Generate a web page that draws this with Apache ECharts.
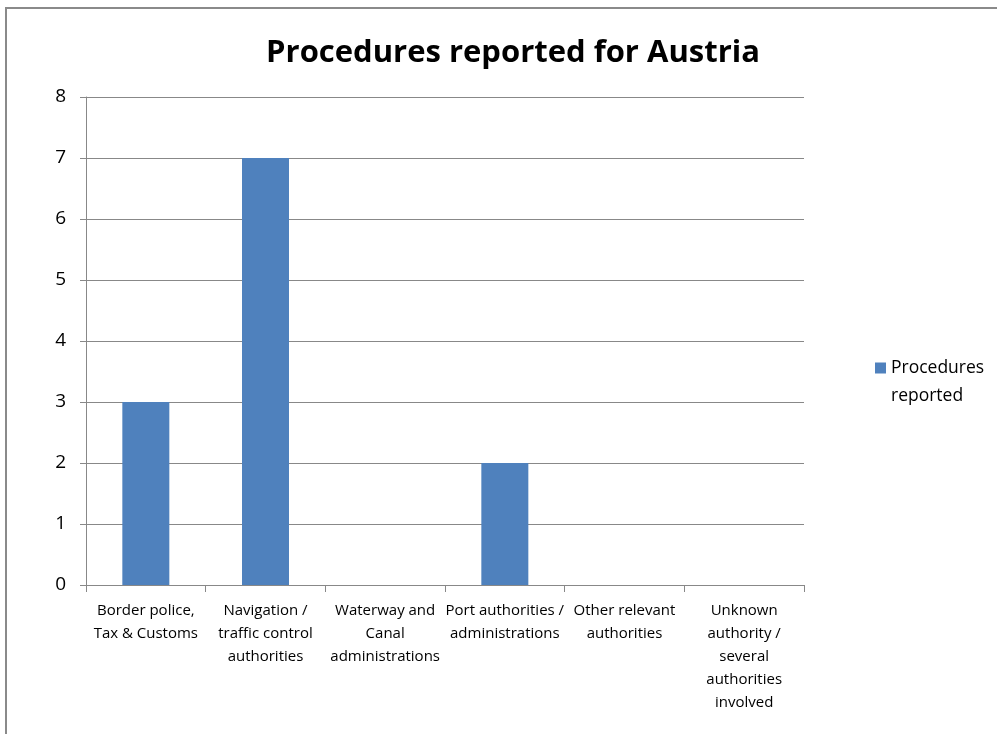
<!DOCTYPE html>
<html><head><meta charset="utf-8">
<script src="https://cdn.jsdelivr.net/npm/echarts@6/dist/echarts.min.js"></script>
<style>html,body{margin:0;padding:0;background:#fff}#c{width:997px;height:734px}
#frame{position:absolute;left:5px;top:7px;width:1000px;height:800px;border-left:2px solid #8a8a8a;border-top:2px solid #8a8a8a;pointer-events:none}</style>
</head><body><div id="c"></div><div id="frame"></div>
<script>
const categories = ['Border police,\nTax & Customs','Navigation /\ntraffic control\nauthorities','Waterway and\nCanal\nadministrations','Port authorities /\nadministrations','Other relevant\nauthorities','Unknown\nauthority /\nseveral\nauthorities\ninvolved'];
const values = [3,7,0,2,0,0];
const seriesName = 'Procedures reported';
const legendLines = ['Procedures','reported'];
const FONT = '"Open Sans",sans-serif';
const chart = echarts.init(document.getElementById('c'));
chart.setOption({
  animation:false,
  title:{text:'Procedures reported for Austria',left:508,top:33,textAlign:'center',
    textStyle:{fontFamily:FONT,fontWeight:'bold',fontSize:31,color:'#000'}},
  legend:{left:875,top:354,padding:0,orient:'vertical',itemWidth:11,itemHeight:11,
    data:[{name:seriesName,icon:'rect'}],
    formatter:()=> legendLines[0],
    textStyle:{fontFamily:FONT,fontSize:17.5,color:'#000',lineHeight:28,padding:[0,0,0,0]}},
  graphic:[{type:'text',left:891,top:382,style:{text:legendLines[1],font:'17.5px "Open Sans", sans-serif',fill:'#000',lineHeight:28}}],
  grid:{left:86,top:97,width:718,height:488},
  xAxis:{type:'category',data:categories,
    axisLine:{lineStyle:{color:'#888',width:1}},
    axisTick:{show:true,length:7,lineStyle:{color:'#888'}},
    axisLabel:{interval:0,margin:14,fontFamily:FONT,fontSize:15,color:'#000',lineHeight:23}},
  yAxis:{type:'value',min:0,max:8,interval:1,
    axisLine:{show:true,lineStyle:{color:'#888'}},
    axisTick:{show:true,length:6,lineStyle:{color:'#888'}},
    splitLine:{lineStyle:{color:'#888',width:1}},
    axisLabel:{margin:20,fontFamily:FONT,fontSize:19,color:'#000'}},
  series:[{name:seriesName,type:'bar',data:values,barWidth:47,
    itemStyle:{color:'#4f81bd'}}]
});
</script></body></html>
